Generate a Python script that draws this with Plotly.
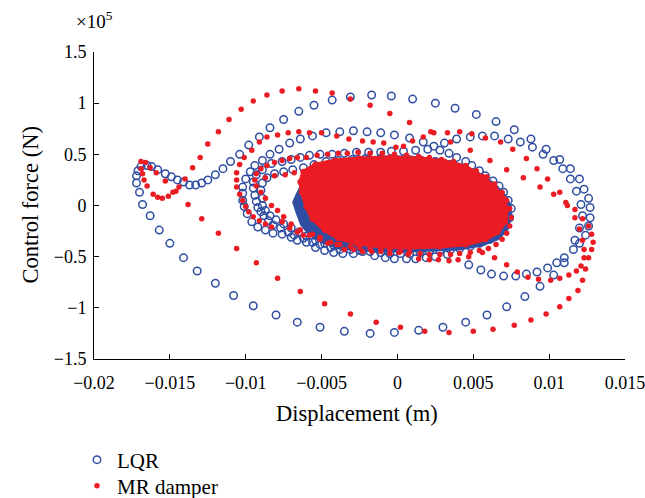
import plotly.graph_objects as go

# ---------------- data (displacement in m, control force in 1e5 N) ----------------
x_tick_vals = [-0.02, -0.015, -0.01, -0.005, 0, 0.005, 0.01, 0.015]
x_tick_text = ["−0.02", "−0.015", "−0.01", "−0.005", "0", "0.005", "0.01", "0.015"]
y_tick_vals = [-1.5, -1, -0.5, 0, 0.5, 1, 1.5]
y_tick_text = ["−1.5", "−1", "−0.5", "0", "0.5", "1", "1.5"]

# LQR: outer excursion loop (with the left curl)
lqr_loop_outer = [(-0.0172,0.22),(-0.0172,0.29),(-0.0171,0.34),(-0.0169,0.38),(-0.0165,0.39),(-0.0162,0.38),
    (-0.0158,0.35),(-0.0153,0.31),(-0.0149,0.28),(-0.0145,0.25),(-0.0141,0.23),(-0.0137,0.20),(-0.0133,0.20),
    (-0.0129,0.22),(-0.0125,0.25),(-0.0120,0.30),(-0.0115,0.36),(-0.0110,0.43),(-0.0104,0.50),(-0.0098,0.59),
    (-0.0091,0.67),(-0.0084,0.76),(-0.0075,0.84),(-0.0065,0.92),(-0.0055,0.98),(-0.0043,1.03),(-0.0031,1.06),
    (-0.0017,1.08),(-0.0004,1.07),(0.0010,1.04),(0.0025,1.00),(0.0038,0.95),(0.0052,0.89),(0.0065,0.82),
    (0.0077,0.74),(0.0088,0.65),(0.0098,0.55),(0.0107,0.45),(0.0114,0.36),(0.0120,0.26),(0.0123,0.16),
    (0.0126,0.07),(0.0127,-0.02),(0.0127,-0.12),(0.0126,-0.20),(0.0124,-0.29),(0.0120,-0.37),(0.0116,-0.43),
    (0.0110,-0.56),(0.0103,-0.68),(0.0094,-0.79),(0.0084,-0.89),(0.0072,-0.99),(0.0059,-1.07),(0.0045,-1.14),
    (0.0030,-1.19),(0.0014,-1.22),(-0.0002,-1.24),(-0.0018,-1.25),(-0.0035,-1.23),(-0.0051,-1.19),(-0.0066,-1.14),
    (-0.0080,-1.07),(-0.0095,-0.98),(-0.0108,-0.88),(-0.0120,-0.76),(-0.0132,-0.64),(-0.0141,-0.51),(-0.0150,-0.37),
    (-0.0157,-0.24),(-0.0163,-0.10),(-0.0168,0.01),(-0.0170,0.13)]

lqr_loop_2 = [(-0.0102,0.05),(-0.0101,-0.01),(-0.0099,-0.08),(-0.0096,-0.16),(-0.0092,-0.21),(-0.0087,-0.24),
    (-0.0082,-0.27),(-0.0076,-0.28),(-0.0070,-0.31),(-0.0066,-0.34),(-0.0060,-0.36),(-0.0054,-0.41),(-0.0048,-0.44),
    (-0.0042,-0.46),(-0.0036,-0.47),(-0.0029,-0.47),(-0.0023,-0.45),(-0.0015,-0.49),(-0.0008,-0.51),(-0.0002,-0.52),
    (0.0006,-0.52),(0.0012,-0.52),(0.0019,-0.51),(0.0025,-0.50),(0.0033,-0.48),(0.0047,-0.58),(0.0055,-0.63),
    (0.0062,-0.67),(0.0070,-0.69),(0.0078,-0.69),(0.0085,-0.67),(0.0092,-0.65),(0.0099,-0.61),(0.0105,-0.56),
    (0.0110,-0.51),(0.0117,-0.34),(0.0120,-0.22),(0.0122,-0.10),(0.0121,0.01),(0.0118,0.14),(0.0114,0.26),
    (0.0109,0.36),(0.0103,0.44),(0.0096,0.50),(0.0089,0.57),(0.0081,0.62),(0.0073,0.65),(0.0064,0.68),(0.0056,0.68),
    (0.0048,0.67),(0.0039,0.65),(0.0031,0.61),(0.0024,0.58),(0.0017,0.62),(0.0008,0.66),(-0.0002,0.69),(-0.0011,0.71),
    (-0.0020,0.72),(-0.0029,0.73),(-0.0038,0.72),(-0.0047,0.71),(-0.0056,0.68),(-0.0064,0.65),(-0.0071,0.61),
    (-0.0078,0.55),(-0.0084,0.50),(-0.0089,0.44),(-0.0094,0.39),(-0.0097,0.33),(-0.0100,0.26),(-0.0102,0.18),
    (-0.0102,0.12)]

lqr_loop_3 = [(-0.0092,-0.02),(-0.0090,-0.06),(-0.0088,-0.10),(-0.0085,-0.15),(-0.0082,-0.19),(-0.0077,-0.22),
    (-0.0072,-0.26),(-0.0068,-0.29),(-0.0062,-0.32),(-0.0056,-0.36),(-0.0051,-0.38),(-0.0044,-0.41),(-0.0038,-0.43),
    (-0.0031,-0.43),(-0.0025,-0.44),(-0.0018,-0.45),(-0.0011,-0.46),(-0.0005,-0.47),(0.0002,-0.47),(0.0008,-0.47),
    (0.0015,-0.46),(0.0021,-0.45),(0.0028,-0.44),(0.0035,-0.43),(0.0041,-0.42),(0.0048,-0.40),(0.0054,-0.37),
    (0.0061,-0.33),(0.0066,-0.27),(0.0071,-0.20),(0.0074,-0.12),(0.0075,-0.03),(0.0073,0.05),(0.0070,0.13),
    (0.0067,0.19),(0.0063,0.24),(0.0058,0.29),(0.0054,0.34),(0.0049,0.39),(0.0045,0.43),(0.0039,0.47),(0.0034,0.51),
    (0.0028,0.54),(0.0020,0.55),(0.0012,0.54),(0.0004,0.53),(-0.0004,0.53),(-0.0011,0.52),(-0.0019,0.52),
    (-0.0027,0.52),(-0.0035,0.51),(-0.0043,0.50),(-0.0051,0.50),(-0.0058,0.49),(-0.0064,0.47),(-0.0070,0.45),
    (-0.0076,0.43),(-0.0083,0.41),(-0.0089,0.35),(-0.0093,0.30),(-0.0095,0.23),(-0.0095,0.17),(-0.0094,0.10),
    (-0.0093,0.04)]

lqr_loop_4 = [(-0.0089,0.00),(-0.0087,-0.05),(-0.0084,-0.10),(-0.0080,-0.14),(-0.0075,-0.18),(-0.0070,-0.22),
    (-0.0065,-0.26),(-0.0060,-0.30),(-0.0054,-0.34),(-0.0048,-0.37),(-0.0042,-0.39),(-0.0089,0.07),(-0.0090,0.15),
    (-0.0089,0.22),(-0.0086,0.27),(-0.0081,0.31),(-0.0075,0.33),(-0.0069,0.35),(-0.0062,0.37),(-0.0055,0.40),
    (-0.0047,0.43),(-0.0039,0.44),(-0.0030,0.45),(-0.0021,0.46),(-0.0011,0.46),(-0.0002,0.46),(0.0007,0.45),
    (0.0016,0.44),(0.0025,0.43),(0.0034,0.40),(0.0042,0.36),(0.0049,0.31),(0.0056,0.25),(0.0062,0.18),(0.0066,0.10),
    (0.0069,0.01),(0.0070,-0.07),(0.0068,-0.16),(0.0065,-0.24)]

# LQR: outline of the saturated steady-state cluster
lqr_core = [(-0.0066,0.10),(-0.0068,0.03),(-0.0066,-0.06),(-0.0063,-0.18),(-0.0058,-0.27),(-0.0050,-0.35),
    (-0.0039,-0.41),(-0.0025,-0.43),(-0.0008,-0.44),(0.0008,-0.44),(0.0025,-0.43),(0.0041,-0.42),(0.0056,-0.38),
    (0.0066,-0.32),(0.0072,-0.23),(0.0074,-0.12),(0.0074,0.00),(0.0070,0.10),(0.0064,0.20),(0.0054,0.30),
    (0.0043,0.39),(0.0028,0.44),(0.0008,0.47),(-0.0011,0.47),(-0.0031,0.45),(-0.0048,0.41),(-0.0057,0.35),
    (-0.0061,0.25)]

# MR damper: outer excursion loop (with the left curl)
mr_loop_outer = [(-0.0169,0.43),(-0.0166,0.42),(-0.0163,0.37),(-0.0159,0.32),(-0.0153,0.24),(-0.0146,0.14),
    (-0.0138,0.01),(-0.0129,-0.13),(-0.0118,-0.27),(-0.0106,-0.42),(-0.0093,-0.56),(-0.0079,-0.71),(-0.0064,-0.84),
    (-0.0048,-0.96),(-0.0031,-1.06),(-0.0014,-1.14),(0.0002,-1.19),(0.0018,-1.23),(0.0034,-1.24),(0.0050,-1.23),
    (0.0063,-1.21),(0.0077,-1.17),(0.0088,-1.12),(0.0098,-1.06),(0.0107,-0.99),(0.0113,-0.91),(0.0119,-0.83),
    (0.0122,-0.73),(0.0124,-0.62),(0.0126,-0.51),(0.0128,-0.43),(0.0129,-0.36),(0.0128,-0.28),(0.0126,-0.20),
    (0.0122,-0.13),(0.0117,-0.04),(0.0111,0.03),(0.0103,0.11),(0.0094,0.18),(0.0083,0.27),(0.0072,0.35),
    (0.0061,0.44),(0.0048,0.54),(0.0035,0.62),(0.0022,0.72),(0.0008,0.81),(-0.0005,0.90),(-0.0018,0.98),
    (-0.0031,1.04),(-0.0043,1.10),(-0.0054,1.12),(-0.0065,1.14),(-0.0076,1.12),(-0.0086,1.08),(-0.0095,1.02),
    (-0.0103,0.94),(-0.0111,0.84),(-0.0118,0.72),(-0.0125,0.60),(-0.0130,0.47),(-0.0135,0.37),(-0.0140,0.26),
    (-0.0144,0.18),(-0.0148,0.13),(-0.0151,0.09),(-0.0155,0.07),(-0.0158,0.08),(-0.0161,0.11),(-0.0165,0.19),
    (-0.0167,0.25),(-0.0168,0.31),(-0.0169,0.36)]

mr_loop_2 = [(-0.0096,0.54),(-0.0091,0.62),(-0.0086,0.67),(-0.0079,0.69),(-0.0072,0.71),(-0.0065,0.72),
    (-0.0058,0.71),(-0.0050,0.71),(-0.0040,0.68),(-0.0032,0.65),(-0.0023,0.63),(-0.0016,0.62),(-0.0009,0.61),
    (-0.0001,0.57),(0.0004,0.58),(0.0010,0.63),(0.0017,0.67),(0.0024,0.71),(0.0033,0.71),(0.0041,0.72),(0.0049,0.70),
    (0.0058,0.66),(0.0068,0.62),(0.0076,0.55),(0.0085,0.46),(0.0092,0.36),(0.0099,0.26),(0.0107,0.13),(0.0112,0.00),
    (0.0117,-0.12),(0.0120,-0.23),(0.0122,-0.34),(0.0123,-0.43),(0.0123,-0.51),(0.0121,-0.59),(0.0118,-0.64),
    (0.0113,-0.68),(0.0107,-0.71),(0.0101,-0.73),(0.0093,-0.72),(0.0086,-0.70),(0.0079,-0.65),(0.0072,-0.58),
    (0.0064,-0.51),(0.0056,-0.46),(0.0047,-0.50),(0.0040,-0.53),(0.0034,-0.54),(0.0027,-0.53),(0.0021,-0.53),
    (0.0014,-0.52),(0.0007,-0.48),(0.0001,-0.46),(-0.0005,-0.47),(-0.0011,-0.45),(-0.0017,-0.45),(-0.0023,-0.45),
    (-0.0029,-0.43),(-0.0035,-0.43),(-0.0040,-0.38),(-0.0046,-0.37),(-0.0051,-0.31),(-0.0056,-0.28),(-0.0062,-0.29),
    (-0.0066,-0.26),(-0.0071,-0.22),(-0.0076,-0.16),(-0.0083,-0.21),(-0.0087,-0.18),(-0.0091,-0.15),(-0.0095,-0.11),
    (-0.0098,-0.06),(-0.0100,-0.01),(-0.0102,0.05),(-0.0104,0.11),(-0.0106,0.18),(-0.0106,0.25),(-0.0106,0.32),
    (-0.0104,0.40),(-0.0101,0.47)]

mr_loop_3 = [(-0.0066,0.47),(-0.0060,0.47),(-0.0053,0.49),(-0.0046,0.50),(-0.0039,0.51),(-0.0033,0.51),
    (-0.0026,0.52),(-0.0018,0.51),(-0.0010,0.51),(-0.0002,0.50),(0.0006,0.49),(0.0014,0.48),(0.0021,0.47),
    (0.0029,0.45),(0.0037,0.43),(0.0045,0.39),(0.0052,0.34),(0.0059,0.28),(0.0064,0.21),(0.0069,0.13),(0.0072,0.05),
    (0.0074,-0.03),(0.0075,-0.12),(0.0074,-0.20),(0.0072,-0.27),(0.0069,-0.33),(0.0065,-0.38),(0.0060,-0.42),
    (0.0054,-0.44),(0.0048,-0.46),(0.0041,-0.47),(0.0035,-0.48),(0.0028,-0.48),(0.0021,-0.48),(0.0015,-0.47),
    (0.0008,-0.46),(0.0002,-0.45),(-0.0005,-0.43),(-0.0011,-0.43),(-0.0018,-0.42),(-0.0025,-0.41),(-0.0031,-0.40),
    (-0.0038,-0.38),(-0.0044,-0.36),(-0.0051,-0.33),(-0.0058,-0.29),(-0.0064,-0.24),(-0.0070,-0.18),(-0.0075,-0.11),
    (-0.0079,-0.05),(-0.0083,0.00),(-0.0087,0.07),(-0.0090,0.13),(-0.0093,0.19),(-0.0094,0.25),(-0.0093,0.31),
    (-0.0090,0.36),(-0.0086,0.39),(-0.0081,0.42),(-0.0076,0.44),(-0.0071,0.46),
    (-0.0087,0.27),(-0.0081,0.29),(-0.0074,0.30),(-0.0068,0.32)]

# MR damper: outline of the saturated steady-state cluster
mr_core = [(-0.0063,0.13),(-0.0060,-0.01),(-0.0056,-0.13),(-0.0048,-0.24),(-0.0039,-0.32),(-0.0027,-0.37),
    (-0.0011,-0.40),(0.0008,-0.41),(0.0028,-0.40),(0.0045,-0.38),(0.0058,-0.33),(0.0066,-0.26),(0.0071,-0.16),
    (0.0072,-0.04),(0.0070,0.07),(0.0064,0.18),(0.0056,0.28),(0.0045,0.38),(0.0031,0.43),(0.0015,0.46),
    (-0.0005,0.47),(-0.0025,0.46),(-0.0041,0.44),(-0.0054,0.40),(-0.0062,0.33),(-0.0064,0.23)]

# ---------------- styling ----------------
BLUE = "#2F4EA2"
RED = "#EC1C24"
FONT = "Liberation Serif"
FIG_W, FIG_H = 645, 498


def xs(pts):
    return [p[0] for p in pts]


def ys(pts):
    return [p[1] for p in pts]


lqr_points = lqr_loop_outer + lqr_loop_2 + lqr_loop_3 + lqr_loop_4
mr_points = mr_loop_outer + mr_loop_2 + mr_loop_3

fig = go.Figure()

fig.add_trace(go.Scatter(x=xs(lqr_core) + [lqr_core[0][0]], y=ys(lqr_core) + [lqr_core[0][1]],
                         mode="lines", fill="toself", fillcolor=BLUE,
                         line=dict(color=BLUE, width=4), showlegend=False, hoverinfo="skip"))
fig.add_trace(go.Scatter(x=xs(lqr_points), y=ys(lqr_points), mode="markers", name="LQR",
                         legend="legend",
                         marker=dict(symbol="circle-open", size=7.5, color=BLUE,
                                     line=dict(width=1.5, color=BLUE))))
fig.add_trace(go.Scatter(x=xs(mr_core) + [mr_core[0][0]], y=ys(mr_core) + [mr_core[0][1]],
                         mode="lines+markers", fill="toself", fillcolor=RED,
                         marker=dict(size=6, color=RED),
                         line=dict(color=RED, width=4), showlegend=False, hoverinfo="skip"))
fig.add_trace(go.Scatter(x=xs(mr_points), y=ys(mr_points), mode="markers", name="MR damper",
                         legend="legend2",
                         marker=dict(symbol="circle", size=5.5, color=RED, line=dict(width=0))))

axis_common = dict(showgrid=False, zeroline=False, showline=True, linecolor="black", linewidth=1,
                   ticks="inside", ticklen=5, tickwidth=1, tickcolor="black", automargin=False,
                   tickfont=dict(family=FONT, size=18, color="black"), mirror=False)

legend_common = dict(xref="container", yref="container", xanchor="left", yanchor="middle",
                     bgcolor="rgba(0,0,0,0)", borderwidth=0,
                     font=dict(family=FONT, size=21, color="black"))

fig.update_layout(
    template="none",
    width=FIG_W, height=FIG_H,
    margin=dict(l=94, r=20, t=52, b=139, autoexpand=False),
    paper_bgcolor="white", plot_bgcolor="white",
    font=dict(family=FONT, size=21, color="black"),
    xaxis=dict(range=[-0.02, 0.0150001], tickmode="array", tickvals=x_tick_vals, ticktext=x_tick_text,
               ticklabelstandoff=7, ticklabeloverflow="allow", **axis_common),
    yaxis=dict(range=[-1.5, 1.5], tickmode="array", tickvals=y_tick_vals, ticktext=y_tick_text,
               ticklabelstandoff=3, **axis_common),
    legend=dict(x=77 / FIG_W, y=1 - 460 / FIG_H, **legend_common),
    legend2=dict(x=77 / FIG_W, y=1 - 486 / FIG_H, **legend_common),
    showlegend=True,
    annotations=[
        dict(text="Displacement (m)", xref="paper", yref="paper", x=0.495, y=-0.176,
             xanchor="center", yanchor="middle", showarrow=False, font=dict(family=FONT, size=22.5)),
        dict(text="Control force (N)", xref="paper", yref="paper", x=-0.1205, y=0.5, textangle=-90,
             xanchor="center", yanchor="middle", showarrow=False, font=dict(family=FONT, size=22.5)),
        dict(text="×10<sup>5</sup>", xref="paper", yref="paper", x=-0.038, y=1.105,
             xanchor="left", yanchor="middle", showarrow=False, font=dict(family=FONT, size=19)),
    ],
)

# remove the browser's default 8 px page margin so the figure fills the window exactly
fig.write_html("out.html",
               config={"displayModeBar": False},
               post_script="document.body.style.margin='0';document.body.style.overflow='hidden';")
